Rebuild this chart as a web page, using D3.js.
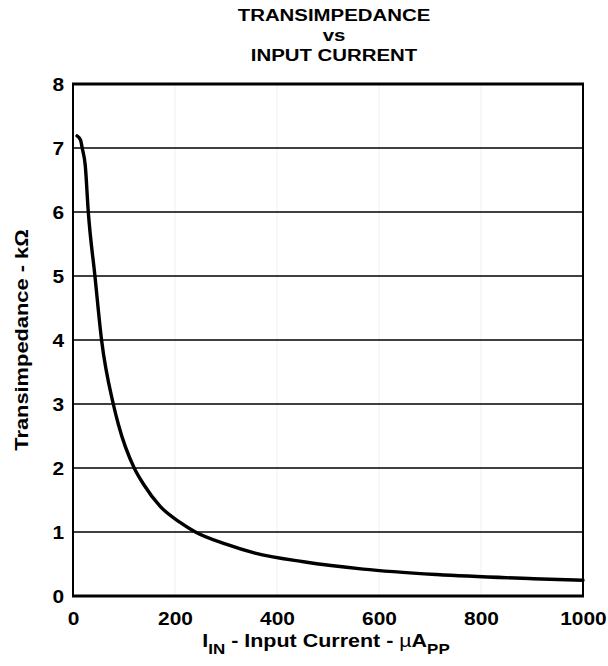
<!DOCTYPE html>
<html><head><meta charset="utf-8">
<script src="https://cdn.jsdelivr.net/npm/d3@7"></script>
<style>body{margin:0;background:#fff}svg{display:block}</style>
</head><body>
<script>
const titleLines = ["TRANSIMPEDANCE", "vs", "INPUT CURRENT"];
const current = [8, 15, 18, 24, 30, 43, 56, 79, 89, 120, 138, 171, 210, 240, 300, 357, 452, 569, 713, 903, 1000];
const transimpedance = [7.19, 7.12, 7.0, 6.73, 6.0, 5.0, 4.0, 3.0, 2.68, 2.0, 1.75, 1.40, 1.15, 1.0, 0.81, 0.67, 0.535, 0.42, 0.335, 0.27, 0.245];
const xTicks = [0, 200, 400, 600, 800, 1000];
const yTicks = [0, 1, 2, 3, 4, 5, 6, 7, 8];

const W = 608, H = 666;
const m = {left: 73, right: 583, top: 84, bottom: 596};
const font = "'Liberation Sans', Arial, Helvetica, sans-serif";
const tickScale = 1.1;

const svg = d3.select("body").append("svg").attr("width", W).attr("height", H)
  .style("font-family", font);

const x = d3.scaleLinear().domain([0, 1000]).range([m.left, m.right]);
const y = d3.scaleLinear().domain([0, 8]).range([m.bottom, m.top]);

// faint vertical grid
svg.append("g").selectAll("line").data(xTicks.slice(1, -1)).join("line")
  .attr("x1", d => x(d)).attr("x2", d => x(d))
  .attr("y1", m.top).attr("y2", m.bottom)
  .attr("stroke", "#f0f0f0").attr("stroke-width", 1);

// horizontal grid
svg.append("g").selectAll("line").data(yTicks.slice(1, -1)).join("line")
  .attr("x1", m.left).attr("x2", m.right)
  .attr("y1", d => y(d)).attr("y2", d => y(d))
  .attr("stroke", "#000").attr("stroke-width", 1.3);

// frame
svg.append("rect").attr("x", m.left).attr("y", m.top)
  .attr("width", m.right - m.left).attr("height", m.bottom - m.top)
  .attr("fill", "none").attr("stroke", "#000").attr("stroke-width", 2);
svg.append("line").attr("x1", m.left - 1).attr("x2", m.right + 1)
  .attr("y1", m.top).attr("y2", m.top).attr("stroke", "#000").attr("stroke-width", 3);
svg.append("line").attr("x1", m.left - 1).attr("x2", m.right + 1)
  .attr("y1", m.bottom).attr("y2", m.bottom).attr("stroke", "#000").attr("stroke-width", 3);

const yPad = 9;
const yAxis = svg.append("g").attr("transform", `translate(${m.left},0)`)
  .call(d3.axisLeft(y).tickValues(yTicks).tickSize(0).tickPadding(yPad).tickFormat(d3.format("d")));
yAxis.select(".domain").remove();
yAxis.selectAll("text").attr("font-family", font).attr("font-size", 19).attr("font-weight", "bold").attr("fill", "#000")
  .attr("x", -yPad / tickScale).attr("transform", `scale(${tickScale},1)`);

const xAxis = svg.append("g").attr("transform", `translate(0,${m.bottom})`)
  .call(d3.axisBottom(x).tickValues(xTicks).tickSize(0).tickPadding(16).tickFormat(d3.format("d")));
xAxis.select(".domain").remove();
xAxis.selectAll("text").attr("font-family", font).attr("font-size", 19).attr("font-weight", "bold").attr("fill", "#000")
  .attr("transform", `scale(${tickScale},1)`);

// curve
const pts = current.map((c, i) => [c, transimpedance[i]]);
svg.append("path").datum(pts)
  .attr("d", d3.line().x(d => x(d[0])).y(d => y(d[1])).curve(d3.curveMonotoneX))
  .attr("fill", "none").attr("stroke", "#000").attr("stroke-width", 3.4)
  .attr("stroke-linecap", "round").attr("stroke-linejoin", "round");

// title
svg.append("g").selectAll("text").data(titleLines).join("text")
  .attr("transform", (d, i) => `translate(334,${21 + i * 20}) scale(1.2,1)`)
  .attr("text-anchor", "middle").attr("font-size", 17).attr("font-weight", "bold")
  .text(d => d);

// x label
const xl = svg.append("text").attr("transform", "translate(326,647) scale(1.13,1)")
  .attr("text-anchor", "middle").attr("font-size", 19).attr("font-weight", "bold");
xl.append("tspan").text("I");
xl.append("tspan").attr("font-size", 15).attr("dy", 7).text("IN");
xl.append("tspan").attr("dy", -7).text(" - Input Current - ");
xl.append("tspan").attr("font-weight", "normal").text("µ");
xl.append("tspan").text("A");
xl.append("tspan").attr("font-size", 15).attr("dy", 7).text("PP");

// y label
svg.append("text").attr("transform", `translate(28,340) rotate(-90) scale(1.15,1)`)
  .attr("text-anchor", "middle").attr("font-size", 19).attr("font-weight", "bold")
  .text("Transimpedance - kΩ");
</script>
</body></html>
